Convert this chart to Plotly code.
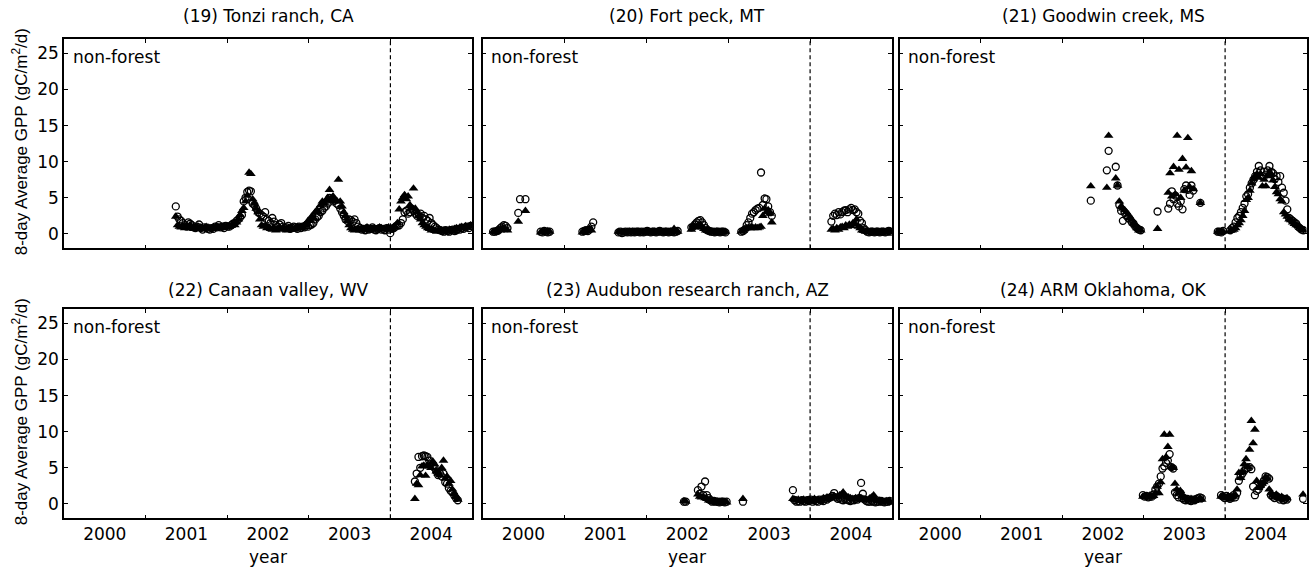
import plotly.graph_objects as go

# ---------------- data ----------------
STEP = 8 / 365.25          # 8-day composites, in years
YEAR_LABEL_POS = [2000.5, 2001.5, 2002.5, 2003.5, 2004.5]
YEAR_LABELS = ["2000", "2001", "2002", "2003", "2004"]
YEAR_BOUNDS = [2001, 2002, 2003, 2004]
SPLIT_YEAR = 2004
Y_TICKS = [0, 5, 10, 15, 20, 25]
TITLES = ["(19) Tonzi ranch, CA", "(20) Fort peck, MT", "(21) Goodwin creek, MS",
          "(22) Canaan valley, WV", "(23) Audubon research ranch, AZ", "(24) ARM Oklahoma, OK"]
CLASS_LABEL = "non-forest"

# (19) Tonzi ranch
TONZI_START = [2001.37]
TONZI_CIRC = [[3.8, 2.4, 2.0, 1.8, 1.5, 1.2, 1.0, 1.6, 1.4, 1.2, 0.9, 0.8, 1.0, 1.3, 0.8, 0.6, 0.9, 0.8, 0.7, 0.6,
               0.8, 0.7, 1.0, 0.9, 1.2, 0.9, 1.0, 0.8, 1.1, 1.0,
               1.0, 1.2, 1.4, 1.5, 1.8, 2.0, 2.3, 2.6, 4.5, 5.0, 5.8,
               6.0, 5.9, 4.2, 4.0, 3.5, 3.0, 2.8, 2.6,
               2.4, 3.0, 2.0, 1.8, 1.5, 2.2, 1.7, 1.2, 1.0, 1.3, 1.5, 1.0, 0.8, 0.9, 1.1, 0.7, 0.8, 1.0, 0.9, 0.7, 1.0, 0.8,
               1.0, 0.9, 1.2, 1.0, 1.2, 1.3, 1.5, 2.0, 2.3, 2.5, 3.0, 3.2, 3.6, 3.8, 4.2, 5.0, 4.8, 4.5, 4.6, 4.2, 4.0,
               3.5, 3.0, 2.5, 2.0, 1.8, 2.0, 1.9, 1.7,
               2.0, 1.5, 1.0, 0.8, 0.6, 0.7, 0.5, 0.8, 0.6, 0.7, 0.9, 0.6, 0.5, 0.7, 0.8, 0.6, 0.7, 0.5, 0.8, 0.6, 0.1,
               0.7, 0.8, 1.0, 1.2,
               1.2, 1.5, 2.0, 3.0, 3.2, 2.8, 3.0, 3.5, 3.2, 2.8, 2.5, 2.6, 2.8, 2.2, 2.5, 2.0, 1.8, 2.2, 1.5,
               1.2, 1.0, 0.8, 0.6, 0.5, 0.4, 0.3, 0.5, 0.4, 0.3, 0.5, 0.6, 0.4, 0.5, 0.7, 0.6, 0.8, 0.7, 0.9, 1.0, 0.8, 1.1]]
TONZI_TRI = [[2.4, 1.2, 1.0, 0.9, 1.1, 0.8, 1.0, 0.9, 1.2, 0.8, 0.7, 0.9, 1.0, 0.8, 0.9, 0.7, 0.8, 1.0, 0.9, 0.8,
              0.7, 0.9, 0.8, 1.0, 0.9, 0.8, 1.0, 1.1, 0.9, 1.0,
              1.0, 1.1, 1.3, 1.2, 1.6, 2.0, 2.6, 3.2, 3.6, 4.5, 5.3,
              8.5, 8.3, 4.8, 4.2, 3.5, 3.0, 2.0, 1.2,
              1.0, 1.1, 0.8, 0.9, 0.7, 0.6, 0.8, 0.5, 0.7, 0.9, 0.6, 0.8, 0.7, 0.5, 0.8, 0.9, 0.7, 0.6, 0.8, 1.0, 0.9, 0.8,
              1.0, 1.2, 1.3, 1.8, 2.0, 2.4, 2.2, 3.0, 3.3, 3.0, 4.0, 4.5, 4.2, 4.6, 5.0, 6.1, 4.6, 5.2, 4.8, 4.5, 7.5,
              4.5, 3.8, 3.0, 2.5, 1.8, 1.2, 0.8, 0.6,
              0.5, 0.6, 0.7, 0.5, 0.8, 0.6, 0.7, 0.9, 0.6, 0.5, 0.7, 0.8, 0.6, 0.7, 0.9, 0.8, 0.6, 0.7, 0.8, 0.9, 0.7,
              0.8, 1.0, 0.9, 1.5,
              3.4, 4.5, 5.0, 5.4, 4.8, 5.2, 4.0, 3.6, 6.3, 3.5, 3.0, 2.5, 2.0, 1.5, 1.2, 1.0,
              0.8, 0.7, 0.5, 0.6, 0.4, 0.3, 0.5, 0.4, 0.3, 0.5, 0.4, 0.3, 0.6, 0.5, 0.4, 0.7, 0.8, 0.6, 0.9, 1.0, 0.8,
              1.1, 0.9, 1.0, 1.2]]

# (20) Fort peck
FORTPECK_START = [2000.13, 2000.71, 2001.22, 2001.66, 2002.55, 2003.16, 2004.26]
FORTPECK_CIRC = [
    [0.3, 0.3, 0.4, 0.5, 0.8, 1.0, 1.2, 1.1, 0.8, None, None, None, None, None, 2.9, 4.8, None, None, 4.8],
    [0.3, 0.2, 0.4, 0.3, 0.2, 0.3],
    [0.3, 0.4, 0.5, 0.4, 0.6, 1.0, 1.6],
    [0.2, 0.3, 0.1, 0.2, 0.3, 0.2, 0.3, 0.2, 0.3, 0.2, 0.3, 0.3, 0.2, 0.3, 0.2, 0.3, 0.4, 0.3, 0.2, 0.3,
     0.3, 0.2, 0.3, 0.4, 0.3, 0.2, 0.3, 0.3, 0.2, 0.3, 0.3, 0.2, 0.3, 0.4],
    [0.9, 1.0, 1.3, 1.6, 1.8, 1.9, 1.6, 1.2, 0.8, 0.5, 0.4, 0.3, 0.3, 0.2, 0.3, 0.3, 0.2, 0.3, 0.3, 0.2],
    [0.3, 0.4, 0.6, 1.2, 1.6, 2.2, 2.8, 3.0, 3.3, 3.5, 3.6, 8.5, 4.0, 4.9, 4.8, 3.8, 3.0, 2.5],
    [1.7, 2.5, 2.8, 2.6, 3.0, 2.7, 3.0, 3.2, 3.3, 3.0, 3.4, 3.6, 3.3, 3.4, 3.0, 2.8, 1.8, 1.5, 0.8, 0.5,
     0.3, 0.2, 0.3, 0.3, 0.2, 0.3, 0.3, 0.2, 0.3, 0.3, 0.2, 0.3, 0.4, 0.3]]
FORTPECK_TRI = [
    [0.3, 0.2, 0.4, 0.6, 0.5, 0.7, 0.8, 0.6, 0.5, None, None, None, None, None, 1.7, None, None, None, 3.2],
    [0.2, 0.3, 0.3, 0.2, 0.4, 0.3],
    [0.2, 0.3, 0.4, 0.6, 0.7, 0.5, None],
    [0.3, 0.2, 0.3, 0.3, 0.2, 0.3, 0.3, 0.2, 0.3, 0.3, 0.2, 0.3, 0.3, 0.2, 0.3, 0.2, 0.3, 0.3, 0.2, 0.3,
     0.3, 0.2, 0.3, 0.3, 0.2, 0.3, 0.3, 0.2, 0.3, 0.3, 0.3, 0.7, 0.3, 0.3],
    [0.6, 1.2, 0.9, 1.0, 1.1, 1.3, 0.9, 0.7, 0.5, 0.4, 0.3, 0.3, 0.2, 0.3, 0.3, 0.2, 0.3, 0.3, 0.2, 0.3],
    [0.3, 0.5, 0.7, 0.8, 0.9, 0.8, 0.9, 0.8, 0.9, 0.8, 0.9, 1.0, 2.5, 3.5, 3.0, 3.3, 2.8, 1.6],
    [0.6, 0.7, 0.5, 0.8, 0.6, 0.9, 1.0, 0.8, 1.2, 1.0, 1.3, 1.1, 1.5, 1.4, 2.0, 1.0, 0.8, 0.5, 0.4, 0.3,
     0.3, 0.2, 0.3, 0.3, 0.2, 0.3, 0.3, 0.2, 0.3, 0.3, 0.2, 0.3, 0.3, 0.3]]

# (21) Goodwin creek
GOODWIN_START = [2002.35, 2003.17, 2003.91]
GOODWIN_CIRC = [
    [4.6, None, None, None, None, None, None, None, None, 8.8, 11.5, None, None, None, 9.3, 6.7,
     4.0, 3.2, 1.8, 2.9, 2.5, 2.2, 2.0, 1.6, 1.4, 1.0, 0.8, 0.6, 0.5],
    [3.1, None, None, None, None, None, 3.5, 4.2, 5.9, 4.8, 5.3, 4.2, 3.8, 4.5, 3.4, 6.2, 6.7, 6.1, 5.4, 6.7,
     6.0, None, None, None, 4.3],
    [0.3, 0.3, 0.2, 0.4, None, None, None, 0.5, 0.8, 1.0, 1.6, 2.2, 2.5, 3.0, 3.6, 4.2, 5.2, 5.5, 6.4, 7.0,
     7.5, 8.0, 8.6, 9.4, 8.8, 8.0, 8.6, 8.2, 8.8, 9.4, 8.6, 8.4, 7.6, 8.0, 7.2, 8.0, 6.4, 5.7, 4.6, 3.4,
     2.2, 2.0, 1.8, 1.6, 1.4, 1.0, 0.8, 0.6, 0.5]]
GOODWIN_TRI = [
    [6.6, None, None, None, None, None, None, None, None, 6.4, 13.6, None, None, None, 7.7, 6.7,
     4.5, 3.8, 3.5, 3.3, 3.0, 2.7, 2.2, 2.0, 1.5, 1.2, 0.8, 0.5, 0.5],
    [0.7, None, None, None, None, None, 5.7, 8.4, 5.2, 9.3, 5.5, 13.6, 8.9, 5.0, 10.4, 6.0, 9.2, 13.3, 6.5, 8.7,
     6.2, None, None, None, 4.3],
    [0.3, 0.2, 0.3, 0.3, None, None, None, 0.4, 0.5, 0.6, 0.8, 1.2, 1.5, 1.9, 2.5, 3.2, 4.7, 5.0, 6.0, 7.0,
     7.6, 8.0, 8.3, 7.8, 8.3, 6.6, 7.5, 6.6, 8.0, 8.5, 8.3, 7.4, 6.5, 5.8, 5.5, 4.8, 4.5, 3.0, 2.7, 2.4,
     2.0, 1.9, 1.6, 1.4, 1.2, 1.1, 0.9, 0.7, 0.5]]

# (22) Canaan valley
CANAAN_START = [2004.30]
CANAAN_CIRC = [[3.1, 4.2, 6.5, 5.0, 6.6, 6.7, 6.6, 6.5, 6.0, 5.5, 5.2, 5.0, 4.5, 4.0, 4.2, 3.8, 4.2, 3.0, 2.8,
                2.2, 1.8, 1.6, 1.2, 0.8, 0.5]]
CANAAN_TRI = [[0.7, 2.8, 2.6, 4.0, 5.2, 5.3, 3.9, 5.4, 5.2, 5.0, 5.9, 5.5, 4.5, 4.2, 4.0, 5.0, 6.0, 3.5, 3.8,
               2.8, 3.2, 2.0, 1.4, 1.0, 0.6]]

# (23) Audubon research ranch
AUDUBON_START = [2002.46, 2002.63, 2003.18, 2003.79]
AUDUBON_CIRC = [
    [0.3, 0.3],
    [1.9, 1.4, 2.4, 1.2, 3.1, 1.2, 0.8, 0.5, 0.3, 0.4, 0.3, 0.3, 0.2, 0.3, 0.3, 0.2, 0.3],
    [0.3],
    [1.9, 0.5, 0.3, 0.4, 0.3, 0.5, 0.4, 0.3, 0.5, 0.4, 0.6, 0.3, 0.5, 0.4, 0.3, 0.6, 0.5, 0.4, 0.7, 0.6,
     0.8, 0.9, 1.1, 1.5, 0.9, 0.7, 0.8, 0.6, 0.5, 0.7, 0.6, 0.5, 0.4, 0.6, 0.5, 0.7, 0.6, 0.8, 2.9, 1.4,
     0.6, 0.4, 0.3, 0.3, 0.4, 0.3, 0.2, 0.3, 0.3, 0.4, 0.3, 0.2, 0.3, 0.3, 0.4]]
AUDUBON_TRI = [
    [0.4, 0.3],
    [1.3, 1.0, 0.9, 1.0, 0.8, 0.7, 0.5, 0.4, 0.3, 0.3, 0.2, 0.3, 0.3, 0.2, 0.3, 0.3, 0.2],
    [0.7],
    [0.7, 0.6, 0.5, 0.6, 0.4, 0.5, 0.6, 0.4, 0.5, 0.6, 0.4, 0.5, 0.7, 0.5, 0.6, 0.4, 0.6, 0.8, 0.7, 0.9,
     0.8, 1.0, 0.9, 1.1, 0.9, 1.0, 1.2, 1.3, 1.6, 1.2, 1.0, 0.9, 0.8, 0.7, 0.6, 0.8, 0.7, 0.9, 0.8, 0.7,
     0.6, 0.5, 0.6, 0.8, 0.9, 1.2, 0.6, 0.4, 0.5, 0.3, 0.4, 0.3, 0.4, 0.3, 0.4]]

# (24) ARM Oklahoma
ARM_START = [2002.99, 2003.95]
ARM_CIRC = [
    [1.2, 1.0, 1.1, 0.9, 1.0, 1.0, 1.3, 2.0, 2.4, 2.8, 3.8, 4.9, 5.2, 5.7, 6.0, 6.9, 5.1, 4.9, 1.6, 1.2,
     0.9, 1.5, 0.8, 0.6, 0.5, 0.7, 0.5, 0.4, 0.6, 0.5, 0.7, 0.8, 0.9, 0.8],
    [1.2, 1.0, 0.8, 1.1, 0.9, 0.7, 1.0, 1.2, 0.9, 1.5, 3.2, 3.8, 4.2, 4.6, 4.9, 5.0, 5.1, 4.8, 2.4, 1.2,
     1.8, 2.0, 2.5, 2.8, 3.2, 3.8, 3.7, 3.5, 1.2, 1.0, 0.8, 1.1, 0.9, 0.6, 0.8, 0.5, 0.7, 0.6,
     None, None, None, None, None, None, None, None, 0.7]]
ARM_TRI = [
    [1.0, 1.1, 0.9, 1.0, 1.2, 1.0, 1.1, 1.5, 2.4, 1.5, 3.0, 6.2, 9.6, 6.5, 7.9, 9.6, 5.1, 5.0, 2.8, 2.0,
     1.5, 1.8, 1.2, 1.0, 0.8, 0.6, 0.5, 0.7, 0.5, 0.4, 0.6, 0.5, 0.7, 0.6],
    [1.0, 1.2, 0.9, 0.8, 1.1, 0.6, 0.9, 1.0, 1.2, 2.0, 4.3, 3.6, 4.4, 5.5, 6.2, 5.1, 7.5, 11.5, 8.4, 10.3,
     3.2, 2.2, 2.5, 2.8, 3.0, 3.7, 3.5, 2.0, 1.5, 1.2, 1.0, 1.3, 0.9, 0.8, 1.0, 0.7, 0.6, 0.8,
     None, None, None, None, None, None, None, None, 1.3]]

SITES = [(TONZI_START, TONZI_CIRC, TONZI_TRI),
         (FORTPECK_START, FORTPECK_CIRC, FORTPECK_TRI),
         (GOODWIN_START, GOODWIN_CIRC, GOODWIN_TRI),
         (CANAAN_START, CANAAN_CIRC, CANAAN_TRI),
         (AUDUBON_START, AUDUBON_CIRC, AUDUBON_TRI),
         (ARM_START, ARM_CIRC, ARM_TRI)]

# ---------------- layout geometry ----------------
W, H = 1314, 568
COL_PX = [(64, 472), (482.5, 892), (899.5, 1306.5)]
ROW_PX = [(39, 248.3), (309, 518.3)]
HFONT = "DejaVu Sans"
VFONT = "Liberation Sans, Arial, sans-serif"
FS = 17


def expand(starts, segs):
    xs, ys = [], []
    for s, vals in zip(starts, segs):
        for i, v in enumerate(vals):
            if v is not None:
                xs.append(s + i * STEP)
                ys.append(v)
    return xs, ys


fig = go.Figure()
layout = dict(width=W, height=H, margin=dict(l=0, r=0, t=0, b=0, pad=0),
              paper_bgcolor="white", plot_bgcolor="white", showlegend=False,
              font=dict(family=HFONT, size=FS, color="black"))
shapes, annotations = [], []

for k, (starts, circ, tri) in enumerate(SITES):
    n = k + 1
    r, c = divmod(k, 3)
    xs = "x" if n == 1 else f"x{n}"
    ys = "y" if n == 1 else f"y{n}"
    cx, cy = expand(starts, circ)
    tx, ty = expand(starts, tri)
    fig.add_trace(go.Scatter(x=cx, y=cy, mode="markers", xaxis=xs, yaxis=ys,
                             marker=dict(symbol="circle-open", size=7, color="black",
                                         line=dict(width=1.3, color="black"))))
    fig.add_trace(go.Scatter(x=tx, y=ty, mode="markers", xaxis=xs, yaxis=ys,
                             marker=dict(symbol="triangle-up", size=8.5, color="black",
                                         line=dict(width=0))))
    x0, x1 = COL_PX[c]
    y0, y1 = ROW_PX[r]
    xkey = "xaxis" if n == 1 else f"xaxis{n}"
    ykey = "yaxis" if n == 1 else f"yaxis{n}"
    layout[xkey] = dict(domain=[x0 / W, x1 / W], anchor=ys, range=[2000, 2005],
                        tickmode="array", tickvals=YEAR_LABEL_POS, ticktext=YEAR_LABELS,
                        ticks="", showticklabels=(r == 1),
                        tickfont=dict(family=HFONT, size=FS, color="black"),
                        showline=True, mirror="ticks", linecolor="black", linewidth=1.5,
                        showgrid=False, zeroline=False,
                        minor=dict(tickmode="array", tickvals=YEAR_BOUNDS, ticks="inside",
                                   ticklen=4, tickwidth=1, tickcolor="black", showgrid=False))
    layout[ykey] = dict(domain=[1 - y1 / H, 1 - y0 / H], anchor=xs, range=[-2, 27],
                        tickmode="array", tickvals=Y_TICKS, ticks="inside", ticklen=4,
                        tickwidth=1, tickcolor="black", showticklabels=(c == 0),
                        tickfont=dict(family=HFONT, size=FS, color="black"),
                        showline=True, mirror="ticks", linecolor="black", linewidth=1.5,
                        showgrid=False, zeroline=False)
    shapes.append(dict(type="line", xref=xs, yref=f"{ys} domain", x0=SPLIT_YEAR, x1=SPLIT_YEAR,
                       y0=0, y1=1, line=dict(color="black", width=1.2, dash="4px,3px")))
    # panel title
    annotations.append(dict(text=TITLES[k], xref="paper", yref="paper",
                            x=(x0 + x1) / 2 / W, y=1 - ([16.2, 289.5][r]) / H,
                            xanchor="center", yanchor="middle", showarrow=False,
                            font=dict(family=HFONT, size=FS, color="black")))
    # class label
    annotations.append(dict(text=CLASS_LABEL, xref=f"{xs} domain", yref=ys,
                            x=0.017, y=24.5, xanchor="left", yanchor="middle", showarrow=False,
                            font=dict(family=HFONT, size=FS, color="black")))
    if r == 1:
        annotations.append(dict(text="year", xref="paper", yref="paper",
                                x=(x0 + x1) / 2 / W, y=1 - 556.5 / H,
                                xanchor="center", yanchor="middle", showarrow=False,
                                font=dict(family=HFONT, size=FS, color="black")))
    if c == 0:
        annotations.append(dict(text="8-day Average GPP (gC/m<sup>2</sup>/d)",
                                xref="paper", yref="paper", x=19.6 / W,
                                y=1 - (y0 + y1) / 2 / H + 2 / H,
                                xanchor="center", yanchor="middle", textangle=-90,
                                showarrow=False, font=dict(family=VFONT, size=17, color="black")))

layout["shapes"] = shapes
layout["annotations"] = annotations
fig.update_layout(**layout)
fig.write_html("out.html")
